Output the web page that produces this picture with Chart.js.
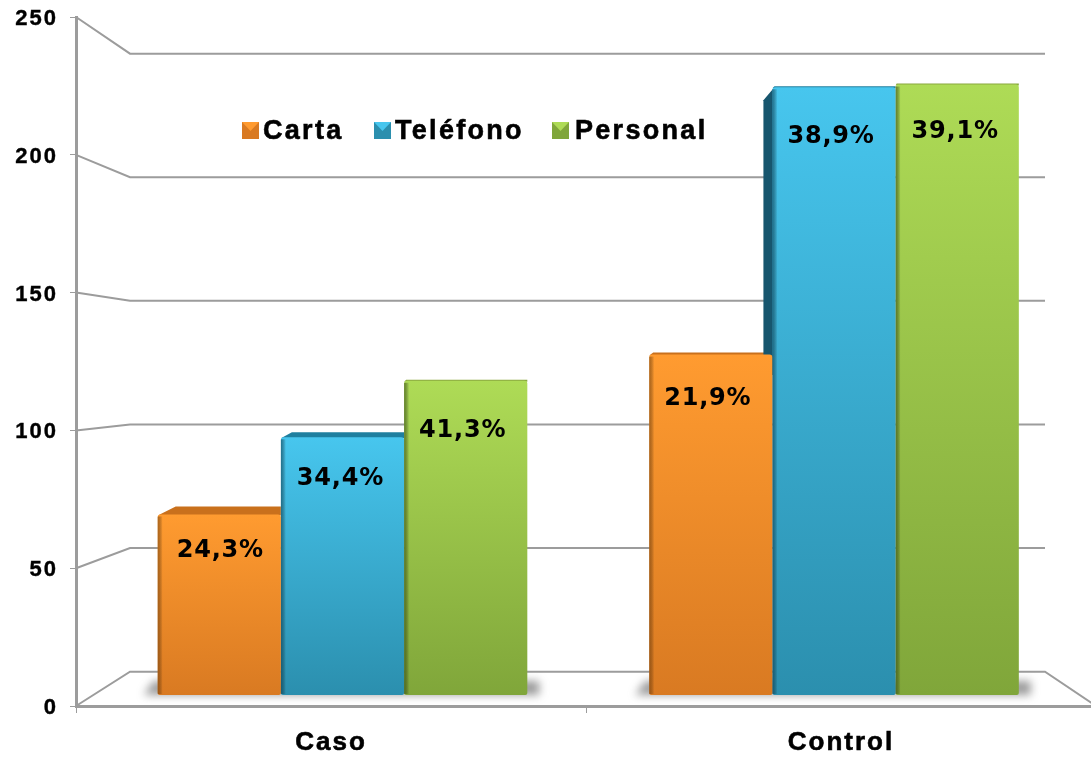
<!DOCTYPE html>
<html>
<head>
<meta charset="utf-8">
<title>Carta, Teléfono, Personal</title>
<script src="https://cdn.jsdelivr.net/npm/chart.js@4"></script>
<style>
  html, body { margin: 0; padding: 0; background: #fff; overflow: hidden; }
  canvas { display: block; }
</style>
</head>
<body>
<canvas id="chart" width="1096" height="758"></canvas>
<script>
// --- Data ---
const categories = ["Caso", "Control"];
const seriesNames = ["Carta", "Teléfono", "Personal"];
const cartaValues = [69.5, 127.5];
const telefonoValues = [97.5, 224.5];
const personalValues = [118, 225.5];
const cartaPct = ["24,3%", "21,9%"];
const telefonoPct = ["34,4%", "38,9%"];
const personalPct = ["41,3%", "39,1%"];
const yTicks = [0, 50, 100, 150, 200, 250];

// --- Styles ---
const seriesColors = [
  { top: "#ff9b30", bottom: "#d97a22", cap: "#c9701c", side: "#7a4410", edge: "rgba(110,60,10,0.55)" },
  { top: "#47c6ee", bottom: "#2b8fae", cap: "#1e7f9f", side: "#17566e", edge: "rgba(10,60,80,0.6)" },
  { top: "#aedb56", bottom: "#80a63a", cap: "#8aa83e", side: "#5c7a22", edge: "rgba(60,85,20,0.65)" },
];
const gridColor = "#9c9c9c";
const labelFont = "bold 24px 'DejaVu Sans'";

// perspective of each bar's cap: [dx, dy] per dataset then per category
const capShift = [
  [[18, 8], [4, 2]],
  [[11, 5], [2, 1]],
  [[2, 1], [1, 1]],
];
// left side wall only the tall blue bar shows
const sideWall = [
  [null, null],
  [null, { dx: 9, dy: 13 }],
  [null, null],
];
// pixel nudges of the percentage labels: [dx, dy below bar top]
const labelNudge = [
  [[1, 36], [-3, 44]],
  [[-2, 41], [-3, 49]],
  [[-3, 50], [-2, 47]],
];
const pctLabels = [cartaPct, telefonoPct, personalPct];

const legendItems = [
  { swatch: 242, text: 263 },
  { swatch: 374, text: 395 },
  { swatch: 552, text: 575 },
];

function barGradient(context, idx) {
  const chart = context.chart;
  const area = chart.chartArea;
  if (!area || context.dataIndex === undefined) return seriesColors[idx].top;
  const y = chart.scales.y;
  const top = y.getPixelForValue(context.dataset.data[context.dataIndex].y);
  const grad = chart.ctx.createLinearGradient(0, top, 0, y.getPixelForValue(4));
  grad.addColorStop(0, seriesColors[idx].top);
  grad.addColorStop(1, seriesColors[idx].bottom);
  return grad;
}

function makeDataset(name, values, idx) {
  return {
    label: name,
    data: values.map(function (v, i) { return { x: i, y: v }; }),
    xAxisID: "xBars",
    base: 4,
    backgroundColor: function (context) { return barGradient(context, idx); },
    borderWidth: 0,
    borderRadius: { topLeft: 3, topRight: 3, bottomLeft: 2, bottomRight: 2 },
    borderSkipped: false,
    categoryPercentage: 0.752,
    barPercentage: 1,
  };
}

// wall and floor lines, ground shadows, bar caps and side walls
const depthPlugin = {
  id: "depth",
  beforeDraw: function (chart) {
    chart.ctx.letterSpacing = "2px";
  },
  beforeDatasetsDraw: function (chart) {
    const ctx = chart.ctx;
    const y = chart.scales.y;
    const x0 = chart.chartArea.left;
    const wallX0 = x0 + 54;
    const wallX1 = 1045;
    const wallY = function (py) { return py * 0.897 + 38.4; };

    ctx.save();
    ctx.letterSpacing = "0px";
    ctx.strokeStyle = gridColor;
    ctx.lineWidth = 2;
    yTicks.forEach(function (v) {
      const py = y.getPixelForValue(v);
      ctx.beginPath();
      ctx.moveTo(x0, py);
      ctx.lineTo(wallX0, wallY(py));
      ctx.lineTo(wallX1, wallY(py));
      if (v === 0) ctx.lineTo(chart.chartArea.right, py);
      ctx.stroke();
    });

    const first = chart.getDatasetMeta(0).data;
    const last = chart.getDatasetMeta(2).data;
    const floor = y.getPixelForValue(4);
    ctx.filter = "blur(4px)";
    ctx.fillStyle = "rgba(90,90,90,0.6)";
    first.forEach(function (bar, i) {
      const left = bar.x - bar.width / 2;
      const right = last[i].x + last[i].width / 2;
      ctx.beginPath();
      ctx.moveTo(left - 14, floor);
      ctx.lineTo(left - 4, floor - 14);
      ctx.lineTo(right + 12, floor - 14);
      ctx.lineTo(right + 12, floor);
      ctx.closePath();
      ctx.fill();
    });
    ctx.filter = "none";

    chart.data.datasets.forEach(function (ds, d) {
      chart.getDatasetMeta(d).data.forEach(function (bar, i) {
        const left = bar.x - bar.width / 2;
        const right = bar.x + bar.width / 2;
        const side = sideWall[d][i];
        if (side) {
          ctx.fillStyle = seriesColors[d].side;
          ctx.beginPath();
          ctx.moveTo(left + 2, bar.y);
          ctx.lineTo(left - side.dx, bar.y + side.dy);
          ctx.lineTo(left - side.dx, floor - 320);
          ctx.lineTo(left + 2, floor - 320);
          ctx.closePath();
          ctx.fill();
        }
        const cap = capShift[d][i];
        ctx.fillStyle = seriesColors[d].cap;
        ctx.beginPath();
        ctx.moveTo(left, bar.y + 1);
        ctx.lineTo(left + cap[0], bar.y - cap[1]);
        ctx.lineTo(right, bar.y - cap[1]);
        ctx.lineTo(right, bar.y + 1);
        ctx.closePath();
        ctx.fill();
      });
    });
    ctx.restore();
  },
  afterDatasetsDraw: function (chart) {
    const ctx = chart.ctx;
    ctx.save();
    // dark bevel on the left of each bar
    chart.data.datasets.forEach(function (ds, d) {
      chart.getDatasetMeta(d).data.forEach(function (bar) {
        const left = bar.x - bar.width / 2;
        const grad = ctx.createLinearGradient(left, 0, left + 5, 0);
        grad.addColorStop(0, seriesColors[d].edge);
        grad.addColorStop(1, "rgba(0,0,0,0)");
        ctx.fillStyle = grad;
        ctx.fillRect(left, bar.y + 2, 5, bar.base - bar.y - 3);
      });
    });

    // percentage labels
    ctx.fillStyle = "#000";
    ctx.font = labelFont;
    ctx.letterSpacing = "0.8px";
    ctx.textAlign = "center";
    ctx.textBaseline = "middle";
    chart.data.datasets.forEach(function (ds, d) {
      chart.getDatasetMeta(d).data.forEach(function (bar, i) {
        const nudge = labelNudge[d][i];
        ctx.fillText(pctLabels[d][i], bar.x + nudge[0], bar.y + nudge[1]);
      });
    });

    // legend
    ctx.font = "bold 27px 'Liberation Sans'";
    ctx.letterSpacing = "2.3px";
    ctx.textAlign = "left";
    ctx.strokeStyle = "#000";
    ctx.lineWidth = 0.6;
    legendItems.forEach(function (item, d) {
      const s = item.swatch;
      const c = seriesColors[d];
      ctx.fillStyle = c.bottom;
      ctx.fillRect(s, 122, 17, 17);
      ctx.fillStyle = c.top;
      ctx.beginPath();
      ctx.moveTo(s, 122);
      ctx.lineTo(s + 17, 122);
      ctx.lineTo(s + 8.5, 131);
      ctx.closePath();
      ctx.fill();
      ctx.fillStyle = "#000";
      ctx.fillText(seriesNames[d], item.text, 132);
      ctx.strokeText(seriesNames[d], item.text, 132);
    });
    ctx.restore();
  },
};

new Chart(document.getElementById("chart"), {
  type: "bar",
  data: {
    labels: categories,
    datasets: [
      makeDataset(seriesNames[0], cartaValues, 0),
      makeDataset(seriesNames[1], telefonoValues, 1),
      makeDataset(seriesNames[2], personalValues, 2),
    ],
  },
  options: {
    responsive: false,
    animation: false,
    layout: { padding: { top: 17, right: 0, bottom: 0, left: 0 } },
    plugins: { legend: { display: false }, tooltip: { enabled: false }, title: { display: false } },
    scales: {
      x: {
        type: "category",
        grid: { drawOnChartArea: false, offset: true, color: gridColor, tickLength: 7, tickWidth: 1 },
        border: { color: gridColor, width: 3 },
        ticks: {
          color: "#000",
          font: { family: "'Liberation Sans'", weight: "bold", size: 26 },
          padding: 14,
          maxRotation: 0,
          textStrokeColor: "#000",
          textStrokeWidth: 0.6,
        },
        afterFit: function (scale) {
          scale.height = 52;
          scale.paddingLeft = 0;
          scale.paddingRight = 0;
        },
      },
      // hidden scale that places the bar groups, which sit a bit inside the category centres
      xBars: {
        type: "linear",
        display: false,
        offset: false,
        min: -0.5422,
        max: 1.533,
        afterBuildTicks: function (scale) {
          scale.ticks = [{ value: 0 }, { value: 1 }];
        },
      },
      y: {
        min: 0,
        max: 250,
        afterBuildTicks: function (scale) {
          scale.ticks = yTicks.map(function (v) { return { value: v }; });
        },
        grid: { drawOnChartArea: false, color: gridColor, tickLength: 6 },
        border: { color: gridColor, width: 3 },
        ticks: {
          color: "#000",
          font: { family: "'Liberation Sans'", weight: "bold", size: 22 },
          padding: 12,
          labelOffset: 2,
          textStrokeColor: "#000",
          textStrokeWidth: 0.4,
        },
        afterFit: function (scale) {
          scale.width = 76;
          scale.paddingTop = 0;
          scale.paddingBottom = 0;
        },
      },
    },
  },
  plugins: [depthPlugin],
});
</script>
</body>
</html>
